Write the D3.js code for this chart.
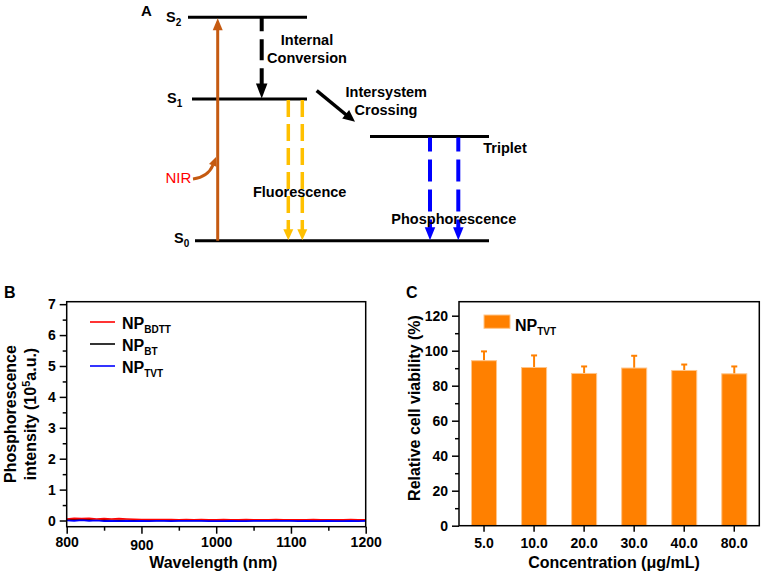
<!DOCTYPE html>
<html><head><meta charset="utf-8">
<script src="https://cdn.jsdelivr.net/npm/d3@7"></script>
<style>body{margin:0;background:#fff} text{font-family:"Liberation Sans",Arial,sans-serif;}</style>
</head><body><svg id="c" width="764" height="582"></svg>
<script>
// ---------- DATA ----------
const wavelengths = [800,810,820,830,840,850,860,870,880,890,900,910,920,930,940,950,960,970,980,990,1000,1010,1020,1030,1040,1050,1060,1070,1080,1090,1100,1110,1120,1130,1140,1150,1160,1170,1180,1190,1200];
const npBDTT = [0.05,0.07,0.06,0.07,0.05,0.06,0.05,0.06,0.05,0.04,0.03,0.03,0.03,0.03,0.03,0.02,0.03,0.02,0.03,0.02,0.02,0.03,0.02,0.02,0.03,0.02,0.02,0.02,0.03,0.02,0.02,0.02,0.02,0.03,0.02,0.02,0.02,0.02,0.03,0.02,0.02];
const npBT   = [0.02,0.03,0.02,0.02,0.01,0.02,0.01,0.01,0.01,0.01,0.01,0.00,0.01,0.00,0.01,0.00,0.00,0.01,0.00,0.00,0.00,0.01,0.00,0.00,0.00,0.00,0.01,0.00,0.00,0.00,0.00,0.00,0.01,0.00,0.00,0.00,0.00,0.00,0.00,0.01,0.00];
const npTVT  = [0.00,-0.01,0.01,-0.01,0.00,-0.02,-0.01,-0.02,-0.01,-0.02,-0.01,-0.02,-0.01,-0.01,-0.02,-0.01,-0.01,-0.01,-0.01,-0.02,-0.02,-0.02,-0.01,-0.02,-0.02,-0.01,-0.01,-0.01,-0.01,-0.01,-0.01,-0.02,-0.01,-0.02,-0.02,-0.01,-0.02,-0.02,-0.01,-0.02,-0.01];
const seriesSubs = ["BDTT","BT","TVT"];
const bTicksX = [800,900,1000,1100,1200];
const bMinorX = [850,950,1050,1150];
const bTicksY = [0,1,2,3,4,5,6,7];
const bMinorY = [0.5,1.5,2.5,3.5,4.5,5.5,6.5];

const concentrations = ["5.0","10.0","20.0","30.0","40.0","80.0"];
const viability = [94.3,90.4,87.0,90.1,88.7,86.8];
const viabilityErr = [5.3,6.9,4.0,7.0,3.4,4.2];
const cTicksY = [0,20,40,60,80,100,120];
const cMinorY = [10,30,50,70,90,110];

// energy levels for diagram (relative energy)
const levelNames = ["S2","S1","T","S0"];
const levelEnergy = [1.0, 0.634, 0.466, 0.0];

// ---------- DRAW ----------
const svg = d3.select("#c");
const F = '"Liberation Sans",Arial,sans-serif';

function txt(g,x,y,s,opt={}){
  return g.append("text").attr("x",x).attr("y",y).text(s)
   .attr("font-size",opt.size||14).attr("font-weight",opt.weight||"bold")
   .attr("fill",opt.fill||"#000").attr("text-anchor",opt.anchor||"start");
}
function subText(g,x,y,main,sub,size,subSize,dy,anchor){
  const t=g.append("text").attr("x",x).attr("y",y).attr("font-size",size).attr("font-weight","bold").attr("text-anchor",anchor||"start");
  t.append("tspan").text(main);
  t.append("tspan").attr("dy",dy).attr("font-size",subSize).text(sub);
  return t;
}
function head(g,tx,ty,ang,len,w,color){
  const ux=Math.cos(ang), uy=Math.sin(ang);
  const bx=tx-ux*len, by=ty-uy*len;
  const px=-uy*w/2, py=ux*w/2;
  g.append("path").attr("d",`M${tx},${ty}L${bx+px},${by+py}L${bx-px},${by-py}Z`).attr("fill",color);
}

// ===== Panel A =====
const A = svg.append("g");
const yE = d3.scaleLinear().domain([0,1]).range([240.7,17.3]);
txt(A,141,16,"A",{size:15});
const levelX = {S2:[188,307],S1:[192,307],T:[370,489],S0:[195,489]};
levelNames.forEach((n,i)=>{
  A.append("line").attr("x1",levelX[n][0]).attr("x2",levelX[n][1])
   .attr("y1",yE(levelEnergy[i])).attr("y2",yE(levelEnergy[i]))
   .attr("stroke","#000").attr("stroke-width",3);
});
const eS2=yE(1), eS1=yE(0.634), eT=yE(0.466), eS0=yE(0);
subText(A,166,21.7,"S","2",14.5,10,4);
subText(A,167,103,"S","1",14.5,10,4);
subText(A,174,243,"S","0",14.5,10,4);

const nir="#C55A11";
A.append("line").attr("x1",217.7).attr("x2",217.7).attr("y1",eS0).attr("y2",eS2+11).attr("stroke",nir).attr("stroke-width",3);
head(A,217.7,eS2+1,-Math.PI/2,12,10,nir);
A.append("path").attr("d","M193,179 Q208,177 213,165").attr("fill","none").attr("stroke",nir).attr("stroke-width",3);
head(A,216,157,-1.2,9,8,nir);
txt(A,178.3,183.3,"NIR",{size:15,weight:"normal",fill:"#FF0000",anchor:"middle"});

A.append("line").attr("x1",261.7).attr("x2",261.7).attr("y1",eS2).attr("y2",eS1-12)
 .attr("stroke","#000").attr("stroke-width",4).attr("stroke-dasharray","14 8 21 8 30");
head(A,261.7,eS1-0.5,Math.PI/2,15,11.5,"#000");
txt(A,307,45,"Internal",{size:14.5,anchor:"middle"});
txt(A,307,62.7,"Conversion",{size:14.5,anchor:"middle"});

A.append("line").attr("x1",316.7).attr("y1",90.7).attr("x2",347).attr("y2",115.5).attr("stroke","#000").attr("stroke-width",3.5);
head(A,355,121.7,Math.atan2(121.7-90.7,355-316.7),12,11,"#000");
txt(A,386.3,97.3,"Intersystem",{size:14.5,anchor:"middle"});
txt(A,386,115,"Crossing",{size:14.5,anchor:"middle"});

const yel="#FFC000";
[288.3,302.3].forEach(x=>{
  A.append("line").attr("x1",x).attr("x2",x).attr("y1",eS1+1).attr("y2",eS0-10)
   .attr("stroke",yel).attr("stroke-width",3.5).attr("stroke-dasharray","17 7");
  head(A,x,eS0-0.5,Math.PI/2,11,10,yel);
});
txt(A,299.7,196.7,"Fluorescence",{size:14.5,anchor:"middle"});

const blu="#0000FF";
[430,458.3].forEach(x=>{
  A.append("line").attr("x1",x).attr("x2",x).attr("y1",eT+1).attr("y2",eS0-12)
   .attr("stroke",blu).attr("stroke-width",4).attr("stroke-dasharray","14 8 22 8 22 8");
  head(A,x,eS0-0.5,Math.PI/2,13,10.5,blu);
});
txt(A,505,153.3,"Triplet",{size:14.5,anchor:"middle"});
txt(A,453.8,224,"Phosphorescence",{size:14.5,anchor:"middle"});

// ===== Panel B =====
const B = svg.append("g");
const bx = d3.scaleLinear().domain([800,1200]).range([66.7,365.7]);
const by = d3.scaleLinear().domain([-0.2,7.08]).range([526.7,301.7]);
txt(B,4,298,"B",{size:16});

const lineGen = vals => d3.line().x((d,i)=>bx(wavelengths[i])).y(d=>by(d))(vals);
const bSeries = [npBT, npBDTT, npTVT];
const bColors = ["#000000","#FF0000","#0000FF"];
bSeries.forEach((s,i)=>{
  B.append("path").attr("d",lineGen(s)).attr("fill","none").attr("stroke",bColors[i]).attr("stroke-width",1.6);
});

function styleAxis(g){
  g.selectAll(".domain").remove();
  g.selectAll("line").attr("stroke","#000").attr("stroke-width",1.5);
  g.selectAll("text").attr("font-size",14).attr("font-weight","bold").attr("font-family",F).attr("fill","#000");
}
const bYax = B.append("g").attr("transform","translate(66.7,0)")
  .call(d3.axisLeft(by).tickValues(bTicksY).tickSize(7).tickPadding(4).tickFormat(d3.format("d")));
styleAxis(bYax);
const bYmin = B.append("g").attr("transform","translate(66.7,0)")
  .call(d3.axisLeft(by).tickValues(bMinorY).tickSize(4).tickFormat(""));
styleAxis(bYmin);
const bXax = B.append("g").attr("transform","translate(0,526.7)")
  .call(d3.axisBottom(bx).tickValues(bTicksX).tickSize(7).tickPadding(3.5).tickFormat(d3.format("d")));
styleAxis(bXax);
bXax.selectAll(".tick text").filter(d=>d===900).attr("dy","0.93em");
const bXmin = B.append("g").attr("transform","translate(0,526.7)")
  .call(d3.axisBottom(bx).tickValues(bMinorX).tickSize(4).tickFormat(""));
styleAxis(bXmin);
B.append("rect").attr("x",66.7).attr("y",301.7).attr("width",299).attr("height",225)
 .attr("fill","none").attr("stroke","#000").attr("stroke-width",1.5);

const legColors = ["#FF0000","#000000","#0000FF"];
seriesSubs.forEach((s,i)=>{
  const y = 322 + i*22;
  B.append("line").attr("x1",90).attr("x2",115).attr("y1",y).attr("y2",y).attr("stroke",legColors[i]).attr("stroke-width",1.6);
  subText(B,122,y+6.5,"NP",s,16,10,4);
});
txt(B,213.3,568,"Wavelength (nm)",{size:16,anchor:"middle"});
B.append("text").attr("transform","translate(16,414) rotate(-90)").attr("text-anchor","middle")
 .attr("font-size",16).attr("font-weight","bold").text("Phosphorescence");
const yl2 = B.append("text").attr("transform","translate(36,414) rotate(-90)").attr("text-anchor","middle")
 .attr("font-size",16).attr("font-weight","bold");
yl2.append("tspan").text("intensity (10");
yl2.append("tspan").attr("dy",-6).attr("font-size",11).text("5");
yl2.append("tspan").attr("dy",6).text("a.u.)");

// ===== Panel C =====
const C = svg.append("g");
const cx = d3.scaleBand().domain(concentrations).range([459,759.3]).paddingInner(0.5).paddingOuter(0.25);
const cy = d3.scaleLinear().domain([0,128]).range([525.7,301.7]);
txt(C,406,298,"C",{size:16});
const orange="#FF8000";
concentrations.forEach((c,i)=>{
  const xm = cx(c)+cx.bandwidth()/2;
  C.append("line").attr("x1",xm).attr("x2",xm).attr("y1",cy(viability[i])).attr("y2",cy(viability[i]+viabilityErr[i]))
   .attr("stroke",orange).attr("stroke-width",2);
  C.append("line").attr("x1",xm-3).attr("x2",xm+3).attr("y1",cy(viability[i]+viabilityErr[i])).attr("y2",cy(viability[i]+viabilityErr[i]))
   .attr("stroke",orange).attr("stroke-width",2);
});
C.selectAll("rect.bar").data(viability).enter().append("rect").attr("class","bar")
 .attr("x",(d,i)=>cx(concentrations[i])).attr("width",cx.bandwidth())
 .attr("y",d=>cy(d)).attr("height",d=>cy(0)-cy(d))
 .attr("fill",orange).attr("stroke","#FFC58A").attr("stroke-width",1);

const cYax = C.append("g").attr("transform","translate(459,0)")
  .call(d3.axisLeft(cy).tickValues(cTicksY).tickSize(7).tickPadding(4).tickFormat(d3.format("d")));
styleAxis(cYax);
const cYmin = C.append("g").attr("transform","translate(459,0)")
  .call(d3.axisLeft(cy).tickValues(cMinorY).tickSize(4).tickFormat(""));
styleAxis(cYmin);
const cXax = C.append("g").attr("transform","translate(0,525.7)")
  .call(d3.axisBottom(cx).tickSize(6).tickPadding(6));
styleAxis(cXax);
C.append("rect").attr("x",459).attr("y",301.7).attr("width",300.3).attr("height",224)
 .attr("fill","none").attr("stroke","#000").attr("stroke-width",1.5);
C.append("rect").attr("x",484).attr("y",315).attr("width",26).attr("height",13.3).attr("fill",orange).attr("stroke","#FFC58A");
subText(C,515,330.7,"NP","TVT",16,10,4);
txt(C,614,568,"Concentration (\u03bcg/mL)",{size:16,anchor:"middle"});
C.append("text").attr("transform","translate(420,408) rotate(-90)").attr("text-anchor","middle")
 .attr("font-size",16).attr("font-weight","bold").text("Relative cell viability (%)");
</script></body></html>
